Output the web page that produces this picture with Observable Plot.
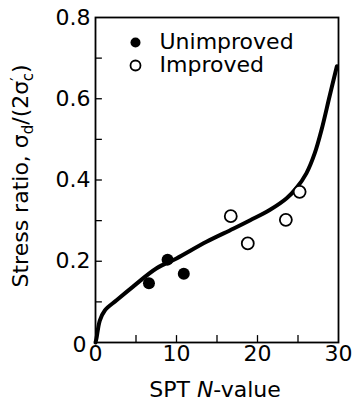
<!DOCTYPE html>
<html>
<head>
<meta charset="utf-8">
<script src="https://cdn.jsdelivr.net/npm/d3@7"></script>
<script src="https://cdn.jsdelivr.net/npm/@observablehq/plot@0.6"></script>
<style>
  html, body { margin: 0; padding: 0; background: #fff; }
  svg { display: block; }
</style>
</head>
<body>
<div id="chart"></div>
<script>
// Data
const unimprovedN = [6.6, 8.9, 10.9];
const unimprovedRatio = [0.146, 0.204, 0.169];
const improvedN = [16.7, 18.8, 23.5, 25.2];
const improvedRatio = [0.311, 0.244, 0.302, 0.371];
const curveN = [0, 0.12, 0.53, 1.15, 2.6, 4.6, 7.5, 10, 13.7, 17.0, 19.1, 21.5, 23.6, 24.8, 26.05, 27.07, 27.9, 28.9, 29.8];
const curveRatio = [0, 0.01, 0.054, 0.079, 0.104, 0.137, 0.182, 0.207, 0.248, 0.28, 0.301, 0.326, 0.355, 0.38, 0.417, 0.466, 0.523, 0.606, 0.68];
const xTickLabels = [0, 10, 20, 30];
const yTickLabels = [0.2, 0.4, 0.6, 0.8];
const xTickMarks = [5, 10, 15, 20, 25];
const yTickMarks = [0.1, 0.2, 0.3, 0.4, 0.5, 0.6, 0.7];
const legendLabels = ["Unimproved", "Improved"];

const unimproved = unimprovedN.map((n, i) => ({n, r: unimprovedRatio[i]}));
const improved = improvedN.map((n, i) => ({n, r: improvedRatio[i]}));
const curve = curveN.map((n, i) => ({n, r: curveRatio[i]}));

const FONT = "DejaVu Sans, sans-serif";
const FS = 22;

const plot = Plot.plot({
  width: 354,
  height: 402,
  marginLeft: 95,
  marginRight: 16,
  marginTop: 17,
  marginBottom: 60,
  style: {fontFamily: FONT, fontSize: FS + "px", background: "#fff", color: "#000"},
  x: {domain: [0, 30]},
  y: {domain: [0, 0.8]},
  marks: [
    Plot.ruleX(xTickMarks, {x: d => d, y1: 0, y2: 0.017, stroke: "#000", strokeWidth: 1.3}),
    Plot.ruleY(yTickMarks, {y: d => d, x1: 0, x2: 0.85, stroke: "#000", strokeWidth: 1.3}),
    Plot.axisX(xTickLabels, {tickSize: 0, tickPadding: 3, fontSize: FS, label: null, tickFormat: d => String(d)}),
    Plot.axisY(yTickLabels, {tickSize: 0, tickPadding: 5, fontSize: FS, label: null, tickFormat: d3.format(".1f")}),
    Plot.axisY([0], {tickSize: 0, tickPadding: 9, dy: 2, fontSize: FS, label: null, tickFormat: d => "0"}),
    Plot.frame({stroke: "#000", strokeWidth: 1.8}),
    Plot.line(curve, {x: "n", y: "r", curve: "catmull-rom", stroke: "#000", strokeWidth: 4}),
    Plot.dot(unimproved, {x: "n", y: "r", r: 6, fill: "#000", stroke: "none"}),
    Plot.dot(improved, {x: "n", y: "r", r: 6, fill: "#fff", stroke: "#000", strokeWidth: 1.8}),
    // legend
    Plot.dot([legendLabels[0]], {frameAnchor: "top-left", dx: 40, dy: 25, r: 5, fill: "#000", stroke: "none"}),
    Plot.dot([legendLabels[1]], {frameAnchor: "top-left", dx: 40, dy: 48, r: 5, fill: "#fff", stroke: "#000", strokeWidth: 1.8}),
    Plot.text([legendLabels[0]], {frameAnchor: "top-left", dx: 64, dy: 24, text: d => d, textAnchor: "start", lineAnchor: "middle", fontSize: FS, fill: "#000"}),
    Plot.text([legendLabels[1]], {frameAnchor: "top-left", dx: 64, dy: 47, text: d => d, textAnchor: "start", lineAnchor: "middle", fontSize: FS, fill: "#000"})
  ]
});

const svg = d3.select(plot);
// Y label with subscripts
const yl = svg.append("text")
  .attr("transform", "translate(28,176) rotate(-90)")
  .attr("text-anchor", "middle")
  .attr("font-family", FONT)
  .attr("font-size", FS)
  .attr("fill", "#000");
yl.append("tspan").text("Stress ratio, σ");
yl.append("tspan").attr("font-size", 15).attr("dy", 5).text("d");
yl.append("tspan").attr("dy", -5).text("/(2σ");
yl.append("tspan").attr("font-size", 15).attr("dy", -6).text("′");
yl.append("tspan").attr("font-size", 15).attr("dx", -4).attr("dy", 11).text("c");
yl.append("tspan").attr("dy", -5).text(")");

// X label with italic N
const xl = svg.append("text")
  .attr("x", 215)
  .attr("y", 397)
  .attr("text-anchor", "middle")
  .attr("font-family", FONT)
  .attr("font-size", FS)
  .attr("fill", "#000");
xl.append("tspan").text("SPT ");
xl.append("tspan").attr("font-style", "italic").text("N");
xl.append("tspan").text("-value");

document.getElementById("chart").appendChild(plot);
</script>
</body>
</html>
